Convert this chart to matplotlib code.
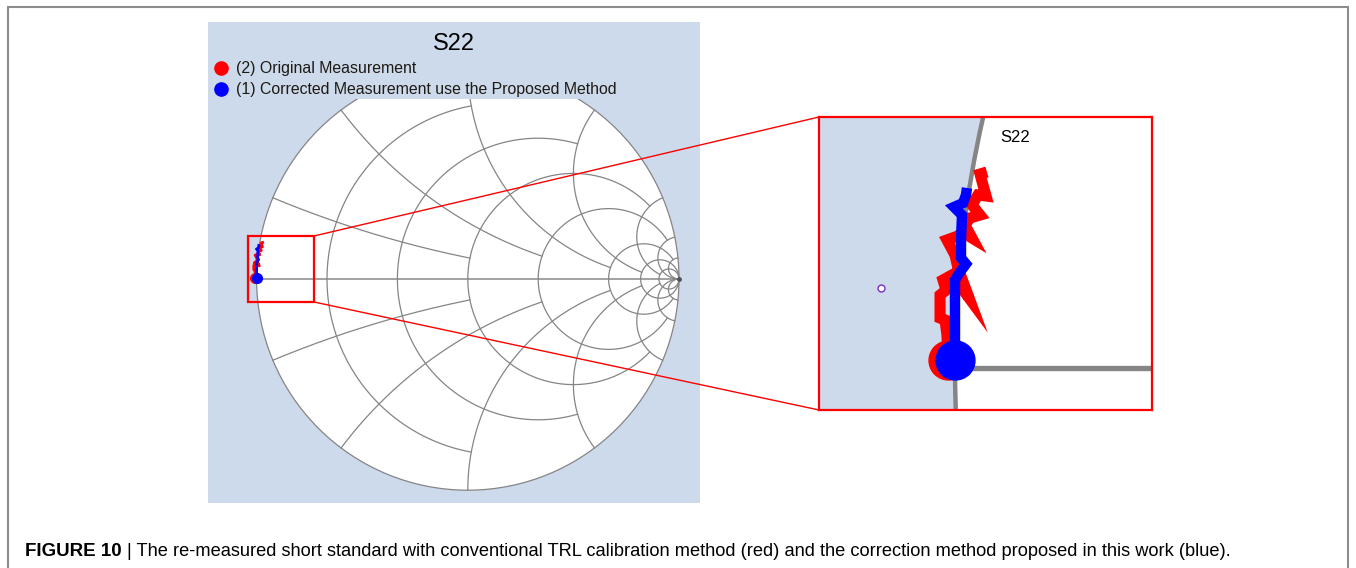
import numpy as np
import matplotlib
matplotlib.use("Agg")
from matplotlib import pyplot as plt
from matplotlib.patches import Rectangle, Circle, ConnectionPatch

plt.rcParams['font.family'] = ['Liberation Sans', 'DejaVu Sans']

# Smith chart grid values
grid_vals = [0.2, 0.5, 1, 2, 5, 10, 20]

red_re = [-1.0062, -1.0071, -1.0088, -1.0132, -1.0132, -1.0079, -1.0106, -1.0026,
          -0.9876, -0.9974, -1.0000, -1.0071, -0.9974, -0.9938, -0.9850, -0.9912,
          -0.9868, -0.9779, -0.9850, -0.9797, -0.9726, -0.9753, -0.9779, -0.9718]
red_im = [0.0071, 0.0291, 0.0424, 0.0441, 0.0644, 0.0688, 0.0777, 0.0821,
          0.0618, 0.0883, 0.0997, 0.1130, 0.1165, 0.1200, 0.1147, 0.1262,
          0.1324, 0.1350, 0.1439, 0.1527, 0.1518, 0.1615, 0.1712, 0.1730]
blue_re = [-1.0000, -1.0000, -0.9956, -0.9903, -0.9947, -0.9947, -0.9938,
           -1.0009, -0.9929, -0.9903, -0.9894]
blue_im = [0.0071, 0.0777, 0.0847, 0.0918, 0.0971, 0.1130, 0.1350,
           0.1421, 0.1456, 0.1527, 0.1589]
cursor = (-1.0653, 0.0706)

legend_labels = ['(2) Original Measurement',
                 '(1) Corrected Measurement use the Proposed Method']
caption_bold = 'FIGURE 10'
caption_text = ('| The re-measured short standard with conventional TRL calibration '
                'method (red) and the correction method proposed in this work (blue).')

W, H = 1356, 568
panel_bg = '#cddaeb'
grid_c = '#858585'


def gamma(z):
    return (z - 1) / (z + 1)


def draw_grid(ax, lw):
    ax.add_patch(Circle((0, 0), 1, facecolor='white', edgecolor=grid_c, lw=lw, zorder=1))
    ax.plot([-1, 1], [0, 0], color=grid_c, lw=lw * 1.2, zorder=2)
    n = len(grid_vals)
    for i, v in enumerate(grid_vals):
        lim = grid_vals[i + 2] if i + 2 < n else 1e6
        # resistance circle, clipped at |x| <= lim
        t = np.linspace(-np.arctan(lim), np.arctan(lim), 600)
        g = gamma(v + 1j * np.tan(t))
        ax.plot(g.real, g.imag, color=grid_c, lw=lw, zorder=2)
        # reactance arcs, clipped at r <= lim
        t = np.linspace(0, np.arctan(lim), 600)
        for s in (1, -1):
            g = gamma(np.tan(t) + 1j * s * v)
            ax.plot(g.real, g.imag, color=grid_c, lw=lw, zorder=2)


def px_axes(x0, y0, x1, y1):
    return fig.add_axes([x0 / W, 1 - y1 / H, (x1 - x0) / W, (y1 - y0) / H])


fig = plt.figure(figsize=(W / 100, H / 100), dpi=100)

# main smith chart: center (467.8, 279) px, radius 211.2 px
cx, cy, R = 467.8, 279.0, 211.2
ax = px_axes(208, 22, 700, 503)
ax.set_facecolor(panel_bg)
ax.set_xlim((208 - cx) / R, (700 - cx) / R)
ax.set_ylim((cy - 503) / R, (cy - 22) / R)
ax.set_xticks([])
ax.set_yticks([])
for s in ax.spines.values():
    s.set_visible(False)
draw_grid(ax, 0.9)
ax.plot([1], [0], 'o', color='#555555', ms=2.5, zorder=2)
ax.add_patch(Rectangle((0, (503 - 99) / 481), 1, 1, transform=ax.transAxes,
                       facecolor=panel_bg, edgecolor='none', zorder=5))
ax.plot(red_re, red_im, color='red', lw=2, marker='o', ms=7, markevery=[0],
        solid_joinstyle='round', zorder=3)
ax.plot(blue_re, blue_im, color='blue', lw=2, marker='o', ms=7, markevery=[0],
        solid_joinstyle='round', zorder=4)
ax.text(0.5, 1 - 22 / 481, 'S22', transform=ax.transAxes, ha='center', va='center',
        fontsize=17, zorder=6)
for k, (lab, col) in enumerate(zip(legend_labels, ['red', 'blue'])):
    yy = 1 - (46 + 21 * k) / 481
    ax.plot([13 / 492], [yy], 'o', color=col, ms=9.5, transform=ax.transAxes, zorder=6,
            clip_on=False)
    ax.text(28 / 492, yy, lab, transform=ax.transAxes, va='center', fontsize=11.45,
            color='#1e1a14', zorder=6)

# zoom box on the main chart
bx0, bx1 = (248 - cx) / R, (314 - cx) / R
by0, by1 = (cy - 302) / R, (cy - 236) / R
ax.add_patch(Rectangle((bx0, by0), bx1 - bx0, by1 - by0, fill=False, ec='red', lw=1.6,
                       zorder=6))

# inset: scale about 1133 px per unit, (-1, 0) at (955, 368) px
S, ix, iy = 1133.0, 955.0, 368.0
axi = px_axes(819, 117, 1152, 410)
axi.set_facecolor(panel_bg)
axi.set_xlim(-1 + (819 - ix) / S, -1 + (1152 - ix) / S)
axi.set_ylim((iy - 410) / S, (iy - 117) / S)
axi.set_xticks([])
axi.set_yticks([])
for s in axi.spines.values():
    s.set_color('red')
    s.set_linewidth(1.6)
draw_grid(axi, 3.2)
axi.plot(red_re, red_im, color='red', lw=8, marker='o', ms=28, markevery=[0],
         solid_joinstyle='miter', solid_capstyle='butt', zorder=3)
axi.plot(blue_re, blue_im, color='blue', lw=7.5, marker='o', ms=28, markevery=[0],
         solid_joinstyle='miter', solid_capstyle='butt', zorder=4)
axi.plot([cursor[0]], [cursor[1]], 'o', ms=5, mfc='white', mec='#7a2fc0', mew=1, zorder=4)
axi.text(0.59, 0.93, 'S22', transform=axi.transAxes, ha='center', va='center',
         fontsize=12, zorder=6)

# connector lines
for yb, ya in ((by1, 1), (by0, 0)):
    con = ConnectionPatch(xyA=(bx1, yb), coordsA=ax.transData, xyB=(0, ya),
                          coordsB=axi.transAxes, color='red', lw=1)
    con.set_zorder(10)
    fig.add_artist(con)

# outer border
fig.add_artist(Rectangle((8 / W, -0.05), (1348 - 8) / W, 1.05 - 7 / H,
                         transform=fig.transFigure, fill=False, ec='#8c8c8c', lw=1.5))

t1 = fig.text(25 / W, 1 - 556 / H, caption_bold, fontsize=13.5, fontweight='bold',
              va='baseline')
plt.annotate(caption_text, xy=(1, 0), xycoords=t1, xytext=(4, 0),
             textcoords='offset points', fontsize=13.15, va='bottom',
             annotation_clip=False)

fig.savefig('out.png', dpi=100)
